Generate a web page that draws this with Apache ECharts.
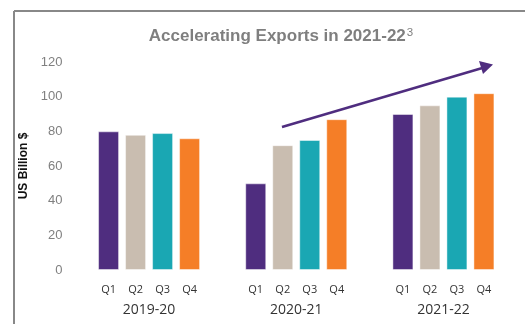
<!DOCTYPE html>
<html>
<head>
<meta charset="utf-8">
<script src="https://cdn.jsdelivr.net/npm/echarts@6/dist/echarts.min.js"></script>
<style>html,body{margin:0;padding:0;background:#fff}#c{width:525px;height:324px}</style>
</head>
<body>
<div id="c"></div>
<script>
const years = ['2019-20', '2020-21', '2021-22'];
const quarters = ['Q1', 'Q2', 'Q3', 'Q4'];
const q1 = [80, 50, 90];
const q2 = [78, 72, 95];
const q3 = [79, 75, 100];
const q4 = [76, 87, 102];
const yTicks = [0, 20, 40, 60, 80, 100, 120];
const colors = ['#4F2D7F', '#C9BDB0', '#1AA7B3', '#F57E27'];

const chart = echarts.init(document.getElementById('c'));
const seriesData = [q1, q2, q3, q4];
const series = quarters.map((q, i) => ({
  name: q,
  type: 'bar',
  data: seriesData[i],
  barWidth: 21,
  barGap: '28.6%',
  itemStyle: { color: colors[i], borderColor: 'rgba(255,255,255,0.45)', borderWidth: 1 },
  label: {
    show: true, position: 'bottom', distance: 14,
    formatter: q, color: '#333', fontSize: 11, fontFamily: 'Open Sans'
  },
  silent: true
}));

chart.setOption({
  animation: false,
  title: {
    text: '{b|Accelerating Exports in 2021-22}{s|3}',
    left: 276, top: 22, textAlign: 'center',
    textStyle: {
      rich: {
        b: { fontFamily: 'Liberation Sans', fontWeight: 'bold', fontSize: 17, color: '#7F7F7F' },
        s: { fontFamily: 'Liberation Sans', fontWeight: 'normal', fontSize: 11.5, color: '#7F7F7F', verticalAlign: 'top', padding: [0, 0, 7, 1] }
      }
    }
  },
  grid: { left: 75.5, right: 8, top: 62, bottom: 54 },
  xAxis: {
    type: 'category', data: years,
    axisLine: { show: false }, axisTick: { show: false },
    axisLabel: { margin: 33, color: '#333', fontSize: 14, fontFamily: 'Open Sans' }
  },
  yAxis: {
    type: 'value', min: yTicks[0], max: yTicks[yTicks.length - 1], interval: 20,
    name: 'US Billion $', nameLocation: 'middle', nameGap: 46, nameRotate: 90,
    nameTextStyle: { fontFamily: 'Liberation Sans', fontWeight: 'bold', fontSize: 12, color: '#111' },
    splitLine: { show: false }, axisLine: { show: false }, axisTick: { show: false },
    axisLabel: { margin: 13, color: '#808080', fontSize: 13, fontFamily: 'Liberation Sans' }
  },
  series: series,
  graphic: [
    { type: 'line', shape: { x1: 14, y1: 11, x2: 14, y2: 324 }, style: { stroke: '#888', lineWidth: 2 } },
    { type: 'line', shape: { x1: 14, y1: 11, x2: 525, y2: 11 }, style: { stroke: '#888', lineWidth: 2 } },
    { type: 'line', shape: { x1: 282, y1: 127, x2: 484, y2: 67.5 }, style: { stroke: '#4F2D7F', lineWidth: 2.5 } },
    { type: 'polygon', shape: { points: [[493, 64.5], [479, 61], [483, 74]] }, style: { fill: '#4F2D7F' } }
  ]
});
</script>
</body>
</html>
